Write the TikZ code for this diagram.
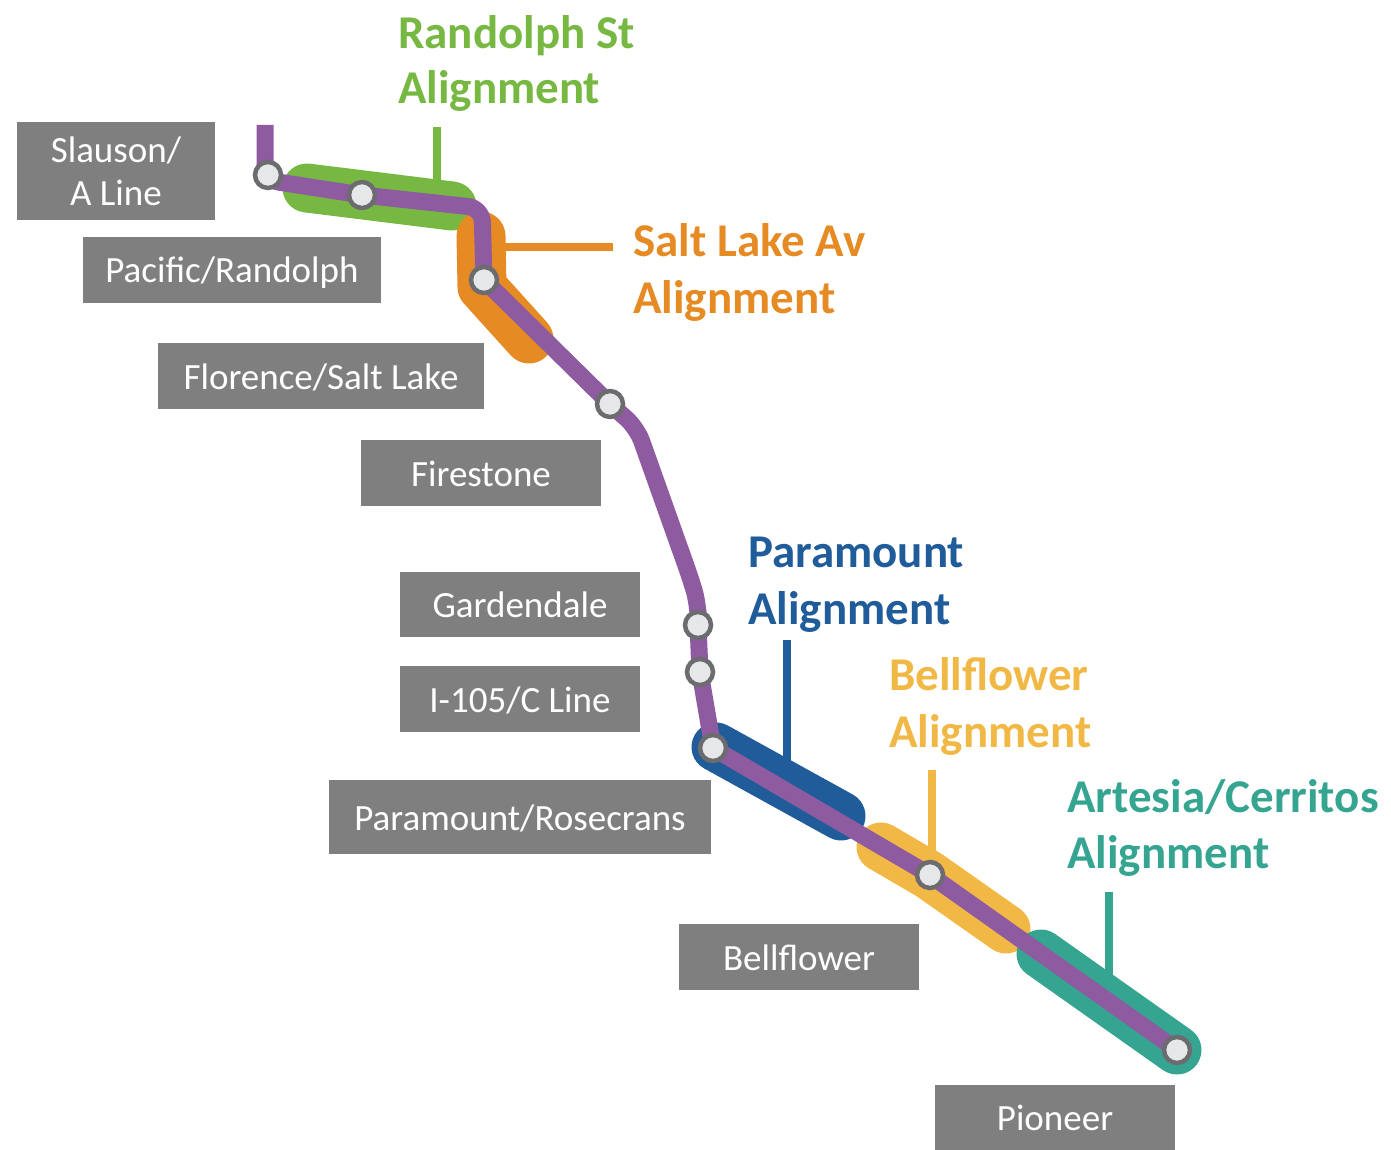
\documentclass[tikz,border=0pt]{standalone}
\usepackage{fontspec}
\setmainfont{Carlito}
\definecolor{lpurple}{RGB}{142,91,161}
\definecolor{lgreen}{RGB}{118,184,66}
\definecolor{lorange}{RGB}{230,138,36}
\definecolor{lblue}{RGB}{31,92,153}
\definecolor{lyellow}{RGB}{242,184,69}
\definecolor{lteal}{RGB}{53,165,145}
\definecolor{boxgray}{RGB}{127,127,127}
\definecolor{stborder}{RGB}{108,108,112}
\definecolor{stfill}{RGB}{230,231,232}
\begin{document}
\begin{tikzpicture}[x=1pt,y=-1pt,
  band/.style={line width=49pt, line cap=round, line join=round},
  leader/.style={line width=8pt},
  route/.style={draw=lpurple, line width=17pt, rounded corners=14pt, line join=round},
  station/.style={circle, draw=stborder, fill=stfill, line width=4.5pt, minimum size=26pt, inner sep=0pt},
  stlabel/.style={fill=boxgray, text=white, inner sep=0pt, font=\fontsize{37}{43}\selectfont, align=center, text height=32pt, text depth=6pt},
  title/.style={anchor=base west, inner sep=0pt, font=\fontsize{47}{57}\selectfont\bfseries}]
\useasboundingbox (0,0) rectangle (1391,1150);

% alignment bands
\draw[band, lgreen] (307,188) -- (452,206);
\draw[band, lorange] (481,236) -- (482,287) -- (529,339);
\draw[band, lblue] (716,747) -- (841,816);
\draw[band, lyellow] (881,847) -- (929,875) -- (1006,929);
\draw[band, lteal] (1041,954) -- (1177,1050);

% leader lines
\coordinate (g1) at (437,127);  \coordinate (g2) at (437,186);
\coordinate (o1) at (500,247);  \coordinate (o2) at (613,247);
\coordinate (b1) at (787,640);  \coordinate (b2) at (787,770);
\coordinate (y1) at (932,770);  \coordinate (y2) at (932,855);
\coordinate (t1) at (1109,892); \coordinate (t2) at (1109,975);
\draw[leader, lgreen] (g1) -- (g2);
\draw[leader, lorange] (o1) -- (o2);
\draw[leader, lblue] (b1) -- (b2);
\draw[leader, lyellow] (y1) -- (y2);
\draw[leader, lteal] (t1) -- (t2);

% route
\coordinate (r0) at (265,125);
\coordinate (r1) at (265,180);
\coordinate (r2) at (482,208);
\coordinate (r3) at (637,428);
\coordinate (r4) at (690,577);
\coordinate (r5) at (698,603);
\coordinate (s1c) at (268,175);
\coordinate (s2c) at (362,195);
\coordinate (s3c) at (484,280);
\coordinate (s4c) at (610,404);
\coordinate (s5c) at (698,625);
\coordinate (s6c) at (700,672);
\coordinate (s7c) at (713,748);
\coordinate (s8c) at (930,875);
\coordinate (s9c) at (1177,1050);
\draw[route] (r0) -- (r1) -- (s2c) -- (r2) -- (s3c) -- (s4c) -- (r3) -- (r4) -- (r5) -- (s5c) -- (s6c) -- (s7c) -- (s8c) -- (s9c);

% stations
\node[station] (s1) at (s1c) {};
\node[station] (s2) at (s2c) {};
\node[station] (s3) at (s3c) {};
\node[station] (s4) at (s4c) {};
\node[station] (s5) at (s5c) {};
\node[station] (s6) at (s6c) {};
\node[station] (s7) at (s7c) {};
\node[station] (s8) at (s8c) {};
\node[station] (s9) at (s9c) {};

% station labels
\node[stlabel, minimum width=198pt, minimum height=98pt, text height=, text depth=] (lslauson) at (116,171) {Slauson/\\A Line};
\node[stlabel, minimum width=298pt, minimum height=66pt] (lpacific) at (232,270) {Pacific/Randolph};
\node[stlabel, minimum width=326pt, minimum height=66pt] (lflorence) at (321,376) {Florence/Salt Lake};
\node[stlabel, minimum width=240pt, minimum height=66pt] (lfirestone) at (481,473) {Firestone};
\node[stlabel, minimum width=240pt, minimum height=65pt] (lgarden) at (520,604.5) {Gardendale};
\node[stlabel, minimum width=240pt, minimum height=66pt] (li105) at (520,699) {I-105/C Line};
\node[stlabel, minimum width=382pt, minimum height=74pt] (lparamount) at (520,817) {Paramount/Rosecrans};
\node[stlabel, minimum width=240pt, minimum height=66pt] (lbell) at (799,957) {Bellflower};
\node[stlabel, minimum width=240pt, minimum height=65pt] (lpioneer) at (1055,1117.5) {Pioneer};

% alignment titles
\node[title, text=lgreen] (rt1) at (398,49) {Randolph St};
\node[title, text=lgreen] (rt2) at (398,104) {Alignment};
\node[title, text=lorange] (st1) at (633,257) {Salt Lake Av};
\node[title, text=lorange] (st2) at (633,313) {Alignment};
\node[title, text=lblue] (pt1) at (748,567) {Paramount};
\node[title, text=lblue] (pt2) at (748,624) {Alignment};
\node[title, text=lyellow] (bt1) at (889,690) {Bellflower};
\node[title, text=lyellow] (bt2) at (889,747) {Alignment};
\node[title, text=lteal] (at1) at (1067,812) {Artesia/Cerritos};
\node[title, text=lteal] (at2) at (1067,868) {Alignment};
\end{tikzpicture}
\end{document}
